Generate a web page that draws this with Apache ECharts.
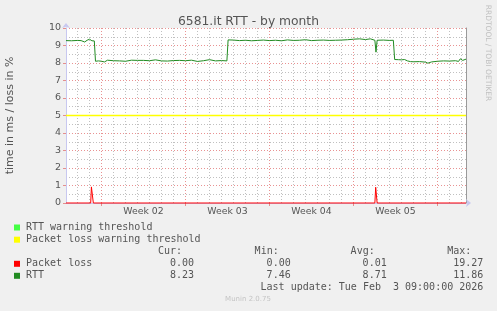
<!DOCTYPE html>
<html>
<head>
<meta charset="utf-8">
<script src="https://cdn.jsdelivr.net/npm/echarts@6/dist/echarts.min.js"></script>
<style>
html,body{margin:0;padding:0;background:#f0f0f0;}
#chart{width:497px;height:311px;}
</style>
</head>
<body>
<div id="chart"></div>
<script>
// x values are days since 2026-01-01 00:00
const xStart = 1.0417;
const xEnd = 34.375;
const weekStarts = [4, 11, 18, 25, 32];
const weekLabels = ['Week 02', 'Week 03', 'Week 04', 'Week 05'];
const weekLabelPos = [7.5, 14.5, 21.5, 28.5];
const dayLines = [2,3,5,6,7,8,9,10,12,13,14,15,16,17,19,20,21,22,23,24,26,27,28,29,30,31,33,34];

const rttData = [
  [1.0417, 9.28], [1.5, 9.27], [2.0, 9.29], [2.3, 9.28], [2.6, 9.20], [2.8, 9.30], [3.0, 9.36], [3.2, 9.27], [3.4, 9.26],
  [3.5, 8.10], [3.75, 8.12], [4.0, 8.10], [4.25, 8.06], [4.5, 8.16], [5.0, 8.13], [5.5, 8.12], [6.0, 8.10], [6.5, 8.16],
  [7.0, 8.15], [7.5, 8.15], [8.0, 8.13], [8.5, 8.18], [9.0, 8.12], [9.5, 8.11], [10.0, 8.14], [10.5, 8.15], [11.0, 8.13],
  [11.5, 8.16], [12.0, 8.09], [12.5, 8.13], [13.0, 8.19], [13.5, 8.12], [14.0, 8.14], [14.45, 8.12],
  [14.55, 9.32], [15.0, 9.31], [15.5, 9.28], [16.0, 9.30], [16.5, 9.27], [17.0, 9.29], [17.5, 9.31], [18.0, 9.28],
  [18.5, 9.30], [19.0, 9.27], [19.5, 9.32], [20.0, 9.29], [20.5, 9.30], [21.0, 9.33], [21.5, 9.28], [22.0, 9.30],
  [22.5, 9.31], [23.0, 9.29], [23.5, 9.30], [24.0, 9.31], [24.5, 9.33], [25.0, 9.36], [25.5, 9.38], [26.0, 9.34],
  [26.4, 9.38], [26.78, 9.30], [26.875, 8.62], [26.97, 9.30], [27.5, 9.31], [28.0, 9.29], [28.32, 9.30],
  [28.43, 8.20], [28.75, 8.19], [29.0, 8.18], [29.25, 8.20], [29.5, 8.12], [29.75, 8.08], [30.0, 8.07], [30.5, 8.08],
  [31.0, 8.05], [31.2, 7.99], [31.5, 8.06], [32.0, 8.10], [32.5, 8.12], [33.0, 8.11], [33.5, 8.13], [33.75, 8.09],
  [33.9, 8.24], [34.1, 8.15], [34.375, 8.22]
];
const lossData = [
  [1.0417, 0], [3.10, 0], [3.16, 0.92], [3.25, 0.92], [3.32, 0],
  [26.78, 0], [26.85, 0.9], [26.90, 0.9], [26.97, 0], [34.375, 0]
];
const lossThreshold = [[1.0417, 5], [34.375, 5]];

const legendNames = ['RTT warning threshold', 'Packet loss warning threshold'];
const legendColors = ['#44ff44', '#ffff00'];
const statNames = ['Packet loss', 'RTT'];
const statColors = ['#ff0000', '#228b22'];
const statHeaders = ['Cur:', 'Min:', 'Avg:', 'Max:'];
const statCur = ['0.00', '8.23'];
const statMin = ['0.00', '7.46'];
const statAvg = ['0.01', '8.71'];
const statMax = ['19.27', '11.86'];
const lastUpdate = 'Last update: Tue Feb  3 09:00:00 2026';

const SANS = 'DejaVu Sans';
const MONO = 'DejaVu Sans Mono';
const TXT = '#555555';
const MGRID = 'rgba(225,110,110,0.75)';
const GRID = 'rgba(150,150,150,0.6)';
const AXIS = '#c8c8f0';

const graphics = [];
const rowY = [227.5, 239.7, 251.9, 263.8, 275.8, 287.8];
legendNames.forEach((n, i) => {
  graphics.push({type:'rect', shape:{x:14, y:rowY[i]-3, width:6, height:6}, style:{fill:legendColors[i]}});
  graphics.push({type:'text', x:26, y:rowY[i], style:{text:n, font:'10px "' + MONO + '"', fill:TXT, verticalAlign:'middle'}});
});
const colRight = [194, 290.7, 386.7, 483.3];
statHeaders.forEach((h, j) => {
  graphics.push({type:'text', x:colRight[j]-12, y:rowY[2], style:{text:h, font:'10px "' + MONO + '"', fill:TXT, align:'right', verticalAlign:'middle'}});
});
statNames.forEach((n, i) => {
  const y = rowY[3+i];
  graphics.push({type:'rect', shape:{x:14, y:y-3, width:6, height:6}, style:{fill:statColors[i]}});
  graphics.push({type:'text', x:26, y:y, style:{text:n, font:'10px "' + MONO + '"', fill:TXT, verticalAlign:'middle'}});
  [statCur[i], statMin[i], statAvg[i], statMax[i]].forEach((v, j) => {
    graphics.push({type:'text', x:colRight[j], y:y, style:{text:v, font:'10px "' + MONO + '"', fill:TXT, align:'right', verticalAlign:'middle'}});
  });
});
graphics.push({type:'text', x:483.3, y:rowY[5], style:{text:lastUpdate, font:'10px "' + MONO + '"', fill:TXT, align:'right', verticalAlign:'middle'}});
graphics.push({type:'text', x:248, y:299.5, style:{text:'Munin 2.0.75', font:'7px "' + SANS + '"', fill:'#c4c4c4', align:'center', verticalAlign:'middle'}});
graphics.push({type:'text', x:487.5, y:53, rotation:-Math.PI/2, style:{text:'RRDTOOL / TOBI OETIKER', font:'7.5px "' + SANS + '"', fill:'#c0c0c0', align:'center', verticalAlign:'middle'}});

const chart = echarts.init(document.getElementById('chart'), null, {renderer:'canvas'});
chart.setOption({
  animation: false,
  backgroundColor: '#f0f0f0',
  title: {
    text: '6581.it RTT - by month',
    left: 'center', top: 11,
    textStyle: {fontFamily: SANS, fontSize: 12.3, fontWeight: 'normal', color: '#555'}
  },
  grid: {left: 66, top: 28, width: 400, height: 175, show: true, backgroundColor: '#ffffff', borderWidth: 0,
         containLabel: false, outerBoundsMode: 'none'},
  xAxis: [
    {
      type: 'value', min: xStart, max: xEnd, position: 'bottom',
      axisLine: {show: true, lineStyle: {color: AXIS}, symbol: ['none', 'arrow'], symbolSize: [6, 5], symbolOffset: [0, 5]},
      axisTick: {show: true, customValues: weekStarts, length: 3, lineStyle: {color: MGRID}},
      splitLine: {show: true, lineStyle: {color: MGRID, type: [1, 2]}},
      axisLabel: {
        customValues: weekLabelPos,
        formatter: function (v) { const i = weekLabelPos.findIndex(p => Math.abs(p - v) < 1e-6); return i >= 0 ? weekLabels[i] : ''; },
        color: TXT, fontFamily: SANS, fontSize: 9.3, margin: 4
      }
    },
    {
      type: 'value', min: xStart, max: xEnd, position: 'top',
      axisLine: {show: false}, axisLabel: {show: false},
      axisTick: {show: false, customValues: dayLines},
      splitLine: {show: true, lineStyle: {color: GRID, type: [1, 2]}}
    }
  ],
  yAxis: [
    {
      type: 'value', min: 0, max: 10, interval: 1, position: 'left',
      name: 'time in ms / loss in %', nameLocation: 'middle', nameGap: 50,
      nameTextStyle: {fontFamily: SANS, fontSize: 11, color: TXT},
      axisLine: {show: true, lineStyle: {color: AXIS}, symbol: ['none', 'arrow'], symbolSize: [6, 5], symbolOffset: [0, 5]},
      axisTick: {show: true, length: 3, lineStyle: {color: MGRID}},
      axisLabel: {color: TXT, fontFamily: SANS, fontSize: 9.5, margin: 5},
      splitLine: {show: true, lineStyle: {color: MGRID, type: [1, 2]}},
      minorTick: {show: false, splitNumber: 2},
      minorSplitLine: {show: true, lineStyle: {color: GRID, type: [1, 2]}}
    },
    {
      type: 'value', min: 0, max: 10, position: 'right',
      axisLine: {show: true, lineStyle: {color: '#9a9a9a'}},
      axisLabel: {show: false}, axisTick: {show: false}, splitLine: {show: false}
    }
  ],
  series: [
    {name: 'Packet loss warning threshold', type: 'line', xAxisIndex: 0, yAxisIndex: 0, data: lossThreshold,
     symbol: 'none', z: 3, lineStyle: {color: '#ffff00', width: 1.3}},
    {name: 'Packet loss', type: 'line', xAxisIndex: 0, yAxisIndex: 0, data: lossData, clip: false,
     symbol: 'none', z: 4, lineStyle: {color: statColors[0], width: 1}},
    {name: 'RTT', type: 'line', xAxisIndex: 0, yAxisIndex: 0, data: rttData,
     symbol: 'none', z: 4, lineStyle: {color: statColors[1], width: 1}}
  ],
  graphic: graphics
});
</script>
</body>
</html>
